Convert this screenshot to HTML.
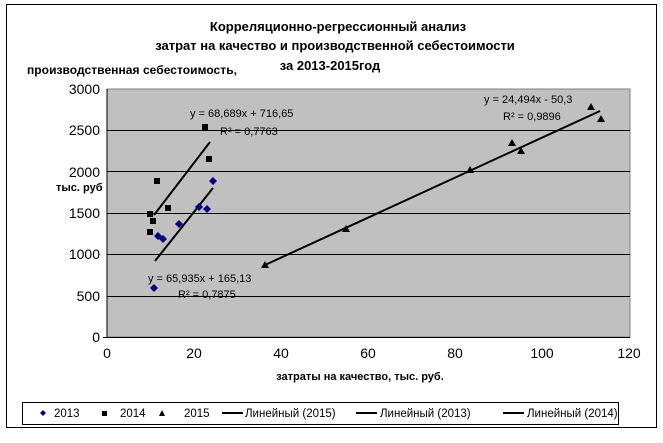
<!DOCTYPE html>
<html><head><meta charset="utf-8"><style>body{margin:0;background:#fff}</style></head><body>
<svg width="663" height="438" xmlns="http://www.w3.org/2000/svg" font-family="Liberation Sans, sans-serif">
<rect x="0" y="0" width="663" height="438" fill="#fff"/>
<rect x="6.5" y="4.5" width="650" height="423" fill="none" stroke="#000"/>
<g font-weight="bold" font-size="13" text-anchor="middle">
<text x="338" y="31">Корреляционно-регрессионный анализ</text>
<text x="335" y="50">затрат на качество и производственной себестоимости</text>
<text x="330" y="70">за 2013-2015год</text>
</g>
<text x="27" y="74" font-size="12" font-weight="bold" textLength="210">производственная себестоимость,</text>
<text x="56" y="191" font-size="11" font-weight="bold">тыс. руб</text>
<rect x="107" y="89" width="523" height="248" fill="#c0c0c0" stroke="#808080"/>
<g stroke="#000" stroke-width="1">
<line x1="107" y1="130.5" x2="630" y2="130.5"/><line x1="107" y1="171.5" x2="630" y2="171.5"/>
<line x1="107" y1="213.5" x2="630" y2="213.5"/><line x1="107" y1="254.5" x2="630" y2="254.5"/>
<line x1="107" y1="296.5" x2="630" y2="296.5"/>
<line x1="107" y1="89" x2="107" y2="337"/><line x1="103" y1="337.5" x2="630" y2="337.5"/>
</g>
<g font-size="14" text-anchor="end">
<text x="100" y="94">3000</text><text x="100" y="135">2500</text><text x="100" y="177">2000</text>
<text x="100" y="218">1500</text><text x="100" y="259">1000</text><text x="100" y="301">500</text><text x="100" y="342">0</text>
</g>
<g font-size="14" text-anchor="middle">
<text x="107" y="358">0</text><text x="194" y="358">20</text><text x="281" y="358">40</text><text x="368" y="358">60</text>
<text x="455" y="358">80</text><text x="542" y="358">100</text><text x="629" y="358">120</text>
</g>
<text x="360" y="380" font-size="11" font-weight="bold" text-anchor="middle">затраты на качество, тыс. руб.</text>
<g stroke="#000" stroke-width="2">
<line x1="265" y1="265" x2="600" y2="111"/>
<line x1="154" y1="215" x2="210" y2="142"/>
<line x1="155" y1="261" x2="213" y2="188"/>
</g>
<g fill="#000080">
<path d="M154 284l4 4-4 4-4-4z"/><path d="M158 232l4 4-4 4-4-4z"/><path d="M163 235l4 4-4 4-4-4z"/>
<path d="M179 220l4 4-4 4-4-4z"/><path d="M199 203l4 4-4 4-4-4z"/><path d="M207 205l4 4-4 4-4-4z"/><path d="M213 177l4 4-4 4-4-4z"/>
</g>
<g fill="#000">
<rect x="202" y="124" width="6" height="6"/><rect x="206" y="156" width="6" height="6"/><rect x="154" y="178" width="6" height="6"/>
<rect x="147" y="211" width="6" height="6"/><rect x="150" y="218" width="6" height="6"/><rect x="165" y="205" width="6" height="6"/><rect x="147" y="229" width="6" height="6"/>
<path d="M265 261l4 7h-8z"/><path d="M346 225l4 7h-8z"/><path d="M470 166l4 7h-8z"/><path d="M512 139l4 7h-8z"/>
<path d="M521 147l4 7h-8z"/><path d="M591 103l4 7h-8z"/><path d="M601 115l4 7h-8z"/>
</g>
<g font-size="11">
<text x="190" y="117">y = 68,689x + 716,65</text><text x="220" y="135">R² = 0,7763</text>
<text x="148" y="282">y = 65,935x + 165,13</text><text x="178" y="298">R² = 0,7875</text>
<text x="484" y="103">y = 24,494x - 50,3</text><text x="503" y="120">R² = 0,9896</text>
</g>
<rect x="22.5" y="402.5" width="596" height="22" fill="#fff" stroke="#000"/>
<g font-size="11.5">
<path d="M43 410l3 3-3 3-3-3z" fill="#000080"/><text x="54" y="417">2013</text>
<rect x="102" y="411" width="5" height="5"/><text x="120" y="417">2014</text>
<path d="M162 410l3 6h-6z"/><text x="184" y="417">2015</text>
<line x1="222" y1="413" x2="243" y2="413" stroke="#000" stroke-width="2"/><text x="245" y="417">Линейный (2015)</text>
<line x1="356" y1="413" x2="377" y2="413" stroke="#000" stroke-width="2"/><text x="380" y="417">Линейный (2013)</text>
<line x1="503" y1="413" x2="524" y2="413" stroke="#000" stroke-width="2"/><text x="527" y="417">Линейный (2014)</text>
</g>
</svg>
</body></html>
